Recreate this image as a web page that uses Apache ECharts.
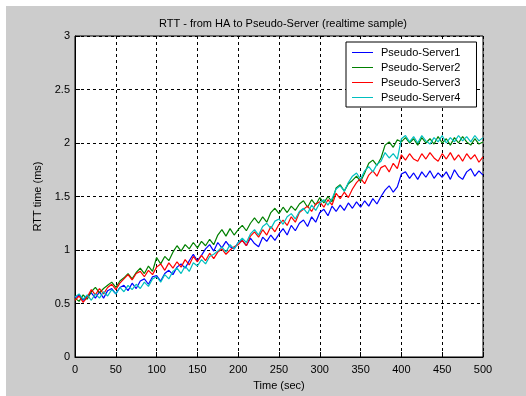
<!DOCTYPE html>
<html>
<head>
<meta charset="utf-8">
<script src="https://cdn.jsdelivr.net/npm/echarts@6/dist/echarts.min.js"></script>
<style>
  html, body { margin: 0; padding: 0; background: #fff; }
  #rtt-chart { position: absolute; left: 6px; top: 6px; width: 520px; height: 390px; }
</style>
</head>
<body>
<div id="rtt-chart"></div>
<script>

var seriesNames = ["Pseudo-Server1", "Pseudo-Server2", "Pseudo-Server3", "Pseudo-Server4"];
var xTicks = [0, 50, 100, 150, 200, 250, 300, 350, 400, 450, 500];
var yTicks = [0, 0.5, 1, 1.5, 2, 2.5, 3];
var sampleStep = 5; // sec between samples

// RTT (ms), one sample every 5 sec from 0 to 500
var server1 = [
    0.55, 0.58, 0.53, 0.57, 0.60, 0.55, 0.61, 0.55, 0.62, 0.64,
    0.59, 0.65, 0.67, 0.62, 0.69, 0.64, 0.71, 0.73, 0.68, 0.75,
    0.76, 0.71, 0.78, 0.81, 0.77, 0.84, 0.87, 0.83, 0.90, 0.96,
    0.90, 0.95, 1.01, 1.05, 0.99, 1.07, 1.02, 1.08, 1.03, 1.01,
    1.07, 1.09, 1.04, 1.11, 1.06, 1.03, 1.12, 1.08, 1.14, 1.09,
    1.15, 1.20, 1.14, 1.23, 1.18, 1.25, 1.28, 1.22, 1.31, 1.26,
    1.35, 1.38, 1.32, 1.41, 1.36, 1.42, 1.37, 1.44, 1.39, 1.45,
    1.40, 1.46, 1.41, 1.48, 1.43, 1.50, 1.56, 1.60, 1.54, 1.59,
    1.71, 1.73, 1.67, 1.72, 1.66, 1.73, 1.68, 1.74, 1.67, 1.72,
    1.68, 1.73, 1.66, 1.75, 1.69, 1.66, 1.73, 1.76, 1.69, 1.74, 1.70
];
var server2 = [
    0.55, 0.52, 0.58, 0.54, 0.61, 0.65, 0.60, 0.64, 0.67, 0.70,
    0.65, 0.71, 0.74, 0.78, 0.73, 0.79, 0.83, 0.78, 0.85, 0.80,
    0.93, 0.87, 0.94, 0.90, 0.98, 1.04, 0.99, 1.05, 1.01, 1.07,
    1.02, 1.08, 1.04, 1.10, 1.05, 1.14, 1.19, 1.13, 1.20, 1.14,
    1.19, 1.23, 1.18, 1.25, 1.30, 1.25, 1.31, 1.26, 1.35, 1.39,
    1.34, 1.40, 1.35, 1.41, 1.37, 1.43, 1.46, 1.40, 1.47, 1.42,
    1.49, 1.44, 1.50, 1.45, 1.58, 1.61, 1.55, 1.62, 1.65, 1.69,
    1.64, 1.72, 1.81, 1.84, 1.79, 1.86, 1.98, 2.01, 1.96, 2.03,
    2.01, 2.05, 2.00, 2.04, 1.98, 2.05, 2.00, 2.04, 1.99, 2.06,
    2.00, 2.04, 1.98, 2.05, 2.00, 2.06, 2.01, 1.98, 2.04, 1.99, 2.01
];
var server3 = [
    0.53, 0.57, 0.51, 0.56, 0.63, 0.58, 0.64, 0.59, 0.65, 0.68,
    0.63, 0.69, 0.73, 0.77, 0.72, 0.78, 0.80, 0.75, 0.81, 0.77,
    0.84, 0.87, 0.81, 0.88, 0.83, 0.89, 0.84, 0.91, 0.86, 0.94,
    0.89, 0.95, 0.90, 0.97, 0.92, 0.98, 1.01, 0.96, 1.00, 1.03,
    1.05, 1.09, 1.04, 1.13, 1.17, 1.12, 1.19, 1.14, 1.22, 1.17,
    1.24, 1.28, 1.23, 1.31, 1.26, 1.35, 1.38, 1.41, 1.36, 1.43,
    1.45, 1.40, 1.47, 1.42, 1.53, 1.48, 1.54, 1.49, 1.57, 1.63,
    1.67, 1.62, 1.70, 1.74, 1.69, 1.77, 1.79, 1.73, 1.81, 1.76,
    1.89, 1.84, 1.90, 1.85, 1.83, 1.90, 1.85, 1.91, 1.86, 1.83,
    1.90, 1.85, 1.91, 1.84, 1.89, 1.83, 1.90, 1.85, 1.89, 1.82, 1.87
];
var server4 = [
    0.56, 0.59, 0.54, 0.58, 0.53, 0.59, 0.55, 0.61, 0.57, 0.63,
    0.59, 0.65, 0.61, 0.67, 0.63, 0.68, 0.64, 0.70, 0.66, 0.73,
    0.75, 0.70, 0.77, 0.73, 0.80, 0.83, 0.78, 0.85, 0.80, 0.88,
    0.85, 0.91, 0.87, 0.94, 0.96, 0.99, 1.03, 0.98, 1.05, 1.01,
    1.07, 1.11, 1.07, 1.15, 1.19, 1.14, 1.22, 1.25, 1.20, 1.27,
    1.29, 1.24, 1.31, 1.34, 1.29, 1.36, 1.39, 1.34, 1.42, 1.37,
    1.44, 1.47, 1.42, 1.48, 1.57, 1.60, 1.55, 1.63, 1.69, 1.72,
    1.66, 1.74, 1.78, 1.73, 1.80, 1.83, 1.91, 1.86, 1.90, 1.85,
    2.04, 2.07, 2.01, 2.06, 2.00, 2.07, 2.02, 1.99, 2.05, 2.01,
    2.07, 2.00, 2.05, 2.01, 2.07, 2.02, 2.06, 2.01, 2.07, 2.02, 2.05
];
var lineColors = ["#0000ff", "#008000", "#ff0000", "#00bfbf"];

var allServers = [server1, server2, server3, server4];
var fontFam = "'Liberation Sans', Arial, sans-serif";

function toPoints(values) {
    var pts = [];
    for (var i = 0; i < values.length; i++) {
        pts.push([i * sampleStep, values[i]]);
    }
    return pts;
}

var chartDom = document.getElementById('rtt-chart');
var chart = echarts.init(chartDom, null, { renderer: 'canvas' });

var seriesList = allServers.map(function (vals, idx) {
    return {
        name: seriesNames[idx],
        type: 'line',
        symbol: 'none',
        animation: false,
        data: toPoints(vals),
        lineStyle: { width: 1.2, color: lineColors[idx] },
        itemStyle: { color: lineColors[idx] },
        z: 3 + idx
    };
});

var option = {
    backgroundColor: '#cccccc',
    animation: false,
    graphic: [
        {
            type: 'text',
            left: 273 - 120, top: 12,
            style: {
                text: 'RTT - from HA to Pseudo-Server (realtime sample)',
                x: 120, textAlign: 'center',
                font: "11px " + fontFam, fill: '#000'
            }
        }
    ],
    grid: {
        left: 69, top: 30, right: 43, bottom: 38,
        show: true, backgroundColor: '#ffffff',
        borderColor: '#000', borderWidth: 1
    },
    legend: {
        orient: 'vertical',
        left: 340, top: 36,
        data: seriesNames,
        icon: 'rect',
        backgroundColor: '#fff',
        borderColor: '#000', borderWidth: 1,
        padding: [4, 16, 3, 6],
        itemWidth: 21, itemHeight: 1, itemGap: 2,
        textStyle: { fontSize: 11, lineHeight: 13, fontFamily: fontFam, color: '#000', padding: [0, 0, 0, 3] }
    },
    xAxis: {
        type: 'value',
        min: 0, max: 500, interval: 50,
        name: 'Time (sec)', nameLocation: 'middle', nameGap: 23,
        nameTextStyle: { fontSize: 11, fontFamily: fontFam, color: '#000' },
        axisLine: { lineStyle: { color: '#000' } },
        axisTick: { inside: true, length: 5, lineStyle: { color: '#000' } },
        axisLabel: { margin: 7, fontSize: 11, fontFamily: fontFam, color: '#000' },
        splitLine: { show: true, lineStyle: { color: '#000', type: [3, 3], width: 1 } }
    },
    yAxis: {
        type: 'value',
        min: 0, max: 3, interval: 0.5,
        name: 'RTT time (ms)', nameLocation: 'middle', nameGap: 29,
        nameTextStyle: { fontSize: 11, fontFamily: fontFam, color: '#000' },
        axisLine: { show: true, lineStyle: { color: '#000' } },
        axisTick: { show: true, inside: true, length: 5, lineStyle: { color: '#000' } },
        axisLabel: { margin: 5, fontSize: 11, fontFamily: fontFam, color: '#000' },
        splitLine: { show: true, lineStyle: { color: '#000', type: [3, 3], width: 1 } }
    },
    series: seriesList
};

option && chart.setOption(option);
</script>
</body>
</html>
